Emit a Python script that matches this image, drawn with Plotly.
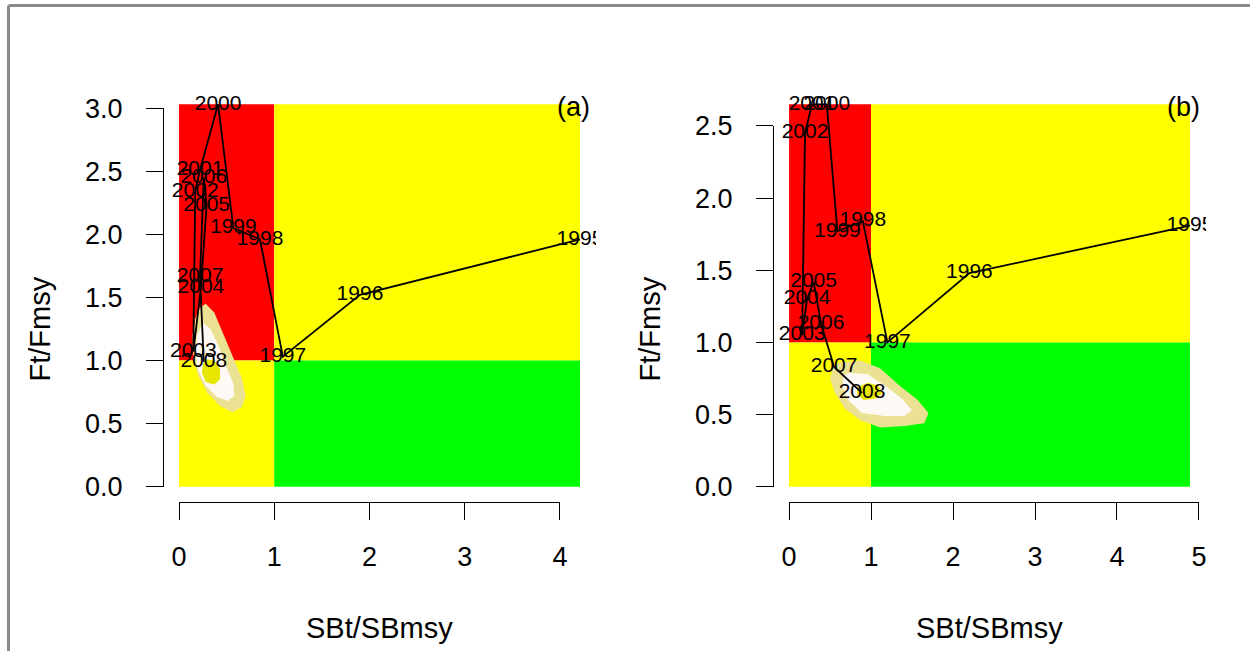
import plotly.graph_objects as go

# ---------------- data ----------------
years = [str(y) for y in range(1995, 2009)]

# panel (a)
a_sb = [4.21, 1.90, 1.09, 0.85, 0.57, 0.41, 0.22, 0.17, 0.15, 0.23, 0.29, 0.26, 0.22, 0.26]
a_f = [1.96, 1.52, 1.03, 1.96, 2.05, 3.03, 2.51, 2.34, 1.07, 1.58, 2.23, 2.45, 1.66, 0.99]
a_xticks = [0, 1, 2, 3, 4]
a_yticks = [0.0, 0.5, 1.0, 1.5, 2.0, 2.5, 3.0]

# panel (b)
b_sb = [4.89, 2.20, 1.20, 0.90, 0.59, 0.46, 0.28, 0.195, 0.16, 0.22, 0.30, 0.39, 0.55, 0.89]
b_f = [1.81, 1.48, 1.00, 1.84, 1.77, 2.65, 2.65, 2.45, 1.05, 1.30, 1.42, 1.13, 0.83, 0.65]
b_xticks = [0, 1, 2, 3, 4, 5]
b_yticks = [0.0, 0.5, 1.0, 1.5, 2.0, 2.5]

# density contour outlines (outer, middle, inner)
a_outer_x = [0.22, 0.28, 0.37, 0.45, 0.56, 0.66, 0.70, 0.66, 0.56, 0.43, 0.30, 0.20, 0.15, 0.14, 0.17]
a_outer_y = [1.42, 1.45, 1.38, 1.24, 1.04, 0.86, 0.72, 0.63, 0.59, 0.64, 0.74, 0.88, 1.04, 1.20, 1.33]
a_mid_x = [0.25, 0.33, 0.41, 0.49, 0.57, 0.58, 0.51, 0.40, 0.28, 0.20, 0.17, 0.19]
a_mid_y = [1.30, 1.25, 1.12, 0.96, 0.82, 0.72, 0.68, 0.71, 0.80, 0.92, 1.06, 1.20]
a_in_x = [0.28, 0.37, 0.43, 0.43, 0.37, 0.28, 0.24, 0.25]
a_in_y = [1.01, 1.00, 0.93, 0.85, 0.81, 0.83, 0.90, 0.97]

b_outer_x = [0.62, 0.87, 1.11, 1.35, 1.57, 1.70, 1.65, 1.41, 1.11, 0.87, 0.68, 0.56, 0.50, 0.54]
b_outer_y = [0.86, 0.875, 0.82, 0.70, 0.60, 0.51, 0.44, 0.42, 0.41, 0.46, 0.54, 0.65, 0.75, 0.83]
b_mid_x = [0.74, 0.96, 1.17, 1.38, 1.50, 1.41, 1.17, 0.89, 0.72, 0.65, 0.67]
b_mid_y = [0.79, 0.78, 0.70, 0.61, 0.53, 0.49, 0.49, 0.51, 0.60, 0.70, 0.77]
b_in_x = [0.83, 0.96, 1.09, 1.14, 1.05, 0.91, 0.83]
b_in_y = [0.69, 0.72, 0.70, 0.65, 0.61, 0.60, 0.64]

# ---------------- layout constants ----------------
W, H = 1250, 651
FONT = "Liberation Sans, Arial, Helvetica, sans-serif"
RED, YEL, GRN = "#FF0000", "#FFFF00", "#00FF00"
C_OUT, C_MID, C_IN = "#EBE192", "#FFF9F6", "#E6E600"
TICK_SIZE, TITLE_SIZE, YEAR_SIZE = 27, 29, 21


def fx(px):
    return px / W


def fy(py):
    return 1 - py / H


panels = [
    dict(sb=a_sb, f=a_f, xt=a_xticks, yt=a_yticks, box=(163, 596, 89, 502), tag="(a)",
         cont=[(a_outer_x, a_outer_y, C_OUT), (a_mid_x, a_mid_y, C_MID), (a_in_x, a_in_y, C_IN)]),
    dict(sb=b_sb, f=b_f, xt=b_xticks, yt=b_yticks, box=(773, 1206, 89, 502), tag="(b)",
         cont=[(b_outer_x, b_outer_y, C_OUT), (b_mid_x, b_mid_y, C_MID), (b_in_x, b_in_y, C_IN)]),
]

fig = go.Figure()
layout = dict(
    template="none",
    width=W, height=H, margin=dict(l=0, r=0, t=0, b=0, pad=0, autoexpand=False),
    paper_bgcolor="white", plot_bgcolor="rgba(0,0,0,0)",
    showlegend=False, font=dict(family=FONT, color="black"),
)
shapes = []
annotations = []

for i, p in enumerate(panels):
    L, R, T, B = p["box"]
    dx, dy = 2 * i + 1, 2 * i + 2
    xd, yd = f"x{dx}", f"y{dx}"
    xt_id, yt_id = f"x{dy}", f"y{dy}"
    xmax, ymax = max(p["sb"]), max(p["f"])
    ux = [-0.04 * xmax, 1.04 * xmax]
    uy = [-0.04 * ymax, 1.04 * ymax]

    def px(x, ux=ux, L=L, R=R):
        return L + (x - ux[0]) / (ux[1] - ux[0]) * (R - L)

    def py(y, uy=uy, T=T, B=B):
        return B - (y - uy[0]) / (uy[1] - uy[0]) * (B - T)

    # data axes (invisible)
    layout[f"xaxis{dx}"] = dict(domain=[fx(L), fx(R)], range=ux, visible=False, anchor=yd,
                                automargin=False)
    layout[f"yaxis{dx}"] = dict(domain=[fy(B), fy(T)], range=uy, visible=False, anchor=xd,
                                automargin=False)

    # R-style detached axes
    xt, yt = p["xt"], p["yt"]
    layout[f"xaxis{dy}"] = dict(
        domain=[fx(px(xt[0])), fx(px(xt[-1]))], range=[xt[0], xt[-1]],
        anchor="free", position=fy(B), showline=True, linecolor="black", linewidth=1.3,
        ticks="outside", ticklen=17, tickwidth=1.3, tickcolor="black",
        tickvals=xt, ticktext=[str(v) for v in xt], showgrid=False, zeroline=False,
        tickfont=dict(size=TICK_SIZE, family=FONT, color="black"), ticklabelstandoff=13,
        automargin=False,
    )
    layout[f"yaxis{dy}"] = dict(
        domain=[fy(py(yt[0])), fy(py(yt[-1]))], range=[yt[0], yt[-1]],
        anchor="free", position=fx(L), showline=True, linecolor="black", linewidth=1.3,
        ticks="outside", ticklen=17, tickwidth=1.3, tickcolor="black",
        tickvals=yt, ticktext=[f"{v:.1f}" for v in yt], showgrid=False, zeroline=False,
        tickfont=dict(size=TICK_SIZE, family=FONT, color="black"), ticklabelstandoff=18,
        automargin=False,
    )
    fig.add_trace(go.Scatter(x=[xt[0]], y=[yt[0]], xaxis=xt_id, yaxis=yt_id, mode="markers",
                             marker=dict(opacity=0), hoverinfo="skip"))

    # status zones
    for (x0, x1, y0, y1, c) in [(0, 1, 1, ymax, RED), (1, xmax, 1, ymax, YEL),
                                (0, 1, 0, 1, YEL), (1, xmax, 0, 1, GRN)]:
        shapes.append(dict(type="rect", xref=xd, yref=yd, x0=x0, x1=x1, y0=y0, y1=y1,
                           fillcolor=c, line=dict(width=0), layer="below"))

    # density contours
    for cx, cy, cc in p["cont"]:
        fig.add_trace(go.Scatter(x=cx + [cx[0]], y=cy + [cy[0]], xaxis=xd, yaxis=yd,
                                 mode="lines", fill="toself", fillcolor=cc,
                                 line=dict(width=0, color=cc), hoverinfo="skip"))

    # trajectory
    fig.add_trace(go.Scatter(x=p["sb"], y=p["f"], xaxis=xd, yaxis=yd, mode="lines",
                             line=dict(color="black", width=1.8), hoverinfo="skip"))
    fig.add_trace(go.Scatter(x=p["sb"], y=p["f"], xaxis=xd, yaxis=yd, mode="text",
                             text=years, textposition="middle center",
                             textfont=dict(size=YEAR_SIZE, family=FONT, color="black"),
                             hoverinfo="skip"))

    # titles
    cxp = (L + R) / 2
    annotations.append(dict(text="SBt/SBmsy", xref="paper", yref="paper", x=fx(cxp), y=fy(628),
                            showarrow=False, font=dict(size=TITLE_SIZE, family=FONT, color="black"),
                            xanchor="center", yanchor="middle"))
    annotations.append(dict(text="Ft/Fmsy", xref="paper", yref="paper", x=fx(L - 124), y=fy((T + B) / 2 + 34),
                            showarrow=False, textangle=-90,
                            font=dict(size=TITLE_SIZE, family=FONT, color="black"),
                            xanchor="center", yanchor="middle"))
    annotations.append(dict(text=p["tag"], xref="paper", yref="paper", x=fx(R - 23), y=fy(107),
                            showarrow=False, font=dict(size=TICK_SIZE, family=FONT, color="black"),
                            xanchor="center", yanchor="middle"))

# outer frame (gray border of the figure box)
shapes.append(dict(type="line", xref="paper", yref="paper", x0=fx(8.5), y0=fy(5.5), x1=1.0, y1=fy(5.5),
                   line=dict(color="#8a8a8a", width=3)))
shapes.append(dict(type="line", xref="paper", yref="paper", x0=fx(8.5), y0=fy(5.5), x1=fx(8.5), y1=0.0,
                   line=dict(color="#8a8a8a", width=3)))

layout["shapes"] = shapes
layout["annotations"] = annotations
fig.update_layout(**layout)
fig.write_html("out.html")
